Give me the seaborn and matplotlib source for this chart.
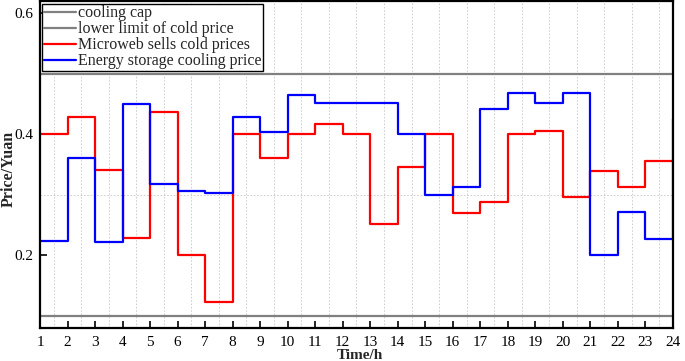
import numpy as np
import pandas as pd
import matplotlib
matplotlib.use("Agg")
import matplotlib.pyplot as plt
import seaborn as sns

# hours 1..24, stairs style (value holds until next hour)
hours = list(range(1, 25))
microweb_price = [0.400, 0.428, 0.341, 0.228, 0.437, 0.200, 0.122, 0.400,
                  0.361, 0.400, 0.417, 0.400, 0.252, 0.345, 0.400, 0.269,
                  0.288, 0.400, 0.405, 0.296, 0.340, 0.313, 0.356, 0.356]
storage_price = [0.223, 0.360, 0.222, 0.450, 0.317, 0.306, 0.302, 0.428,
                 0.404, 0.465, 0.451, 0.451, 0.451, 0.400, 0.299, 0.312,
                 0.441, 0.469, 0.451, 0.468, 0.200, 0.272, 0.227, 0.426]
cooling_cap = 0.5
lower_limit = 0.1
y_ticks = [0.2, 0.4, 0.6]

df = pd.DataFrame({
    "hour": hours,
    "cap": [cooling_cap] * len(hours),
    "low": [lower_limit] * len(hours),
    "micro": microweb_price,
    "storage": storage_price,
})

sns.set_style("ticks")
plt.rcParams['font.family'] = ['Liberation Serif', 'DejaVu Serif']

fig = plt.figure(figsize=(6.85, 3.61), dpi=100)
ax = fig.add_axes([0.0584, 0.0906, 0.924, 0.906])

sns.lineplot(data=df, x="hour", y="cap", color="#808080", lw=1.6, ax=ax,
             label="cooling cap")
sns.lineplot(data=df, x="hour", y="low", color="#808080", lw=1.6, ax=ax,
             label="lower limit of cold price")
sns.lineplot(data=df, x="hour", y="micro", color="#ff0000", lw=1.6, ax=ax,
             drawstyle="steps-post", label="Microweb sells cold prices")
sns.lineplot(data=df, x="hour", y="storage", color="#0000ff", lw=1.6, ax=ax,
             drawstyle="steps-post", label="Energy storage cooling price")

ax.set_xlim(1, 24)
ax.set_ylim(0.079, 0.62)
ax.set_xticks(hours)
ax.set_yticks(y_ticks)
ax.set_yticklabels([f"{v:.1f}" for v in y_ticks])
# grid sits on half hours and odd tenths
ax.set_xticks(np.arange(1.5, 24, 1), minor=True)
ax.set_yticks([0.1, 0.3, 0.5], minor=True)
ax.grid(which="minor", color="#c8c8c8", linestyle=(0, (2, 2)), linewidth=0.6)
ax.grid(which="major", visible=False)
ax.tick_params(which="major", direction="in", length=5, width=1.2,
               labelsize=11, colors="black")
ax.tick_params(which="minor", length=0)
ax.tick_params(axis="x", pad=5.5)
ax.tick_params(axis="y", pad=4.5)
for s in ax.spines.values():
    s.set_linewidth(1.6)
    s.set_color("black")

ax.set_xlabel("Time/h", fontweight="bold", fontsize=11)
ax.set_ylabel("Price/Yuan", fontweight="bold", fontsize=11.5)
ax.xaxis.set_label_coords(0.505, -0.063)
ax.yaxis.set_label_coords(-0.037, 0.487)

leg = ax.legend(loc="upper left", fontsize=11.5, frameon=True, fancybox=False,
                edgecolor="black", framealpha=1, borderaxespad=0.15,
                borderpad=0.1, labelspacing=0.0, handlelength=2.0,
                handletextpad=0.1)
leg.get_frame().set_linewidth(1.0)

fig.savefig("out.png", dpi=100, facecolor="white")
